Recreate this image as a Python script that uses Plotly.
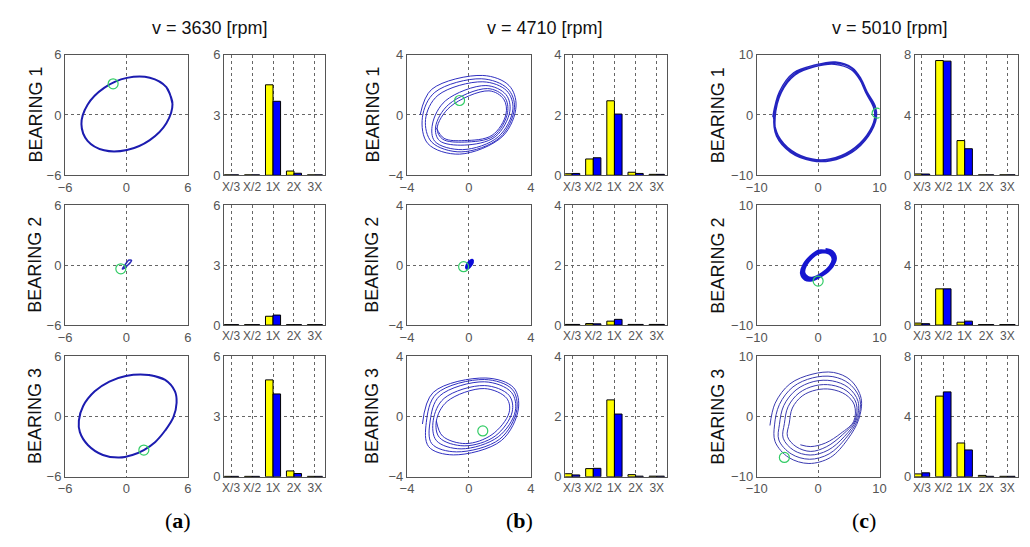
import plotly.graph_objects as go

W, H = 1030, 547

# ---------------- text ----------------
categories = ["X/3", "X/2", "1X", "2X", "3X"]
speed_titles = ["v = 3630 [rpm]", "v = 4710 [rpm]", "v = 5010 [rpm]"]
bearing_labels = ["BEARING 1", "BEARING 2", "BEARING 3"]
panel_letters = ["a", "b", "c"]
orbit_limits = [6, 4, 10]
spectrum_limits = [6, 4, 8]

# ---------------- spectrum amplitudes (yellow = first series, blue = second) ----------------
a1_yellow = [0.02, 0.02, 4.50, 0.21, 0.02]
a1_blue = [0.02, 0.02, 3.68, 0.10, 0.02]
a2_yellow = [0.02, 0.02, 0.44, 0.02, 0.02]
a2_blue = [0.02, 0.02, 0.50, 0.02, 0.02]
a3_yellow = [0.02, 0.02, 4.82, 0.29, 0.02]
a3_blue = [0.02, 0.02, 4.12, 0.16, 0.02]

b1_yellow = [0.05, 0.54, 2.47, 0.10, 0.03]
b1_blue = [0.06, 0.58, 2.03, 0.06, 0.03]
b2_yellow = [0.02, 0.05, 0.13, 0.02, 0.02]
b2_blue = [0.02, 0.04, 0.19, 0.02, 0.02]
b3_yellow = [0.10, 0.27, 2.55, 0.07, 0.02]
b3_blue = [0.06, 0.28, 2.08, 0.02, 0.02]

c1_yellow = [0.09, 7.61, 2.30, 0.03, 0.03]
c1_blue = [0.08, 7.57, 1.76, 0.03, 0.03]
c2_yellow = [0.13, 2.42, 0.19, 0.03, 0.03]
c2_blue = [0.09, 2.42, 0.26, 0.03, 0.03]
c3_yellow = [0.19, 5.35, 2.24, 0.09, 0.03]
c3_blue = [0.26, 5.63, 1.78, 0.03, 0.03]

a1_orbit = [[(4.50, 1.11), (3.90, 2.77), (2.28, 3.71), (0.05, 3.69), (-2.18, 2.70), (-3.80, 1.02),
             (-4.40, -0.91), (-3.80, -2.57), (-2.18, -3.52), (0.05, -3.49), (2.28, -2.50), (3.90, -0.82),
             (4.50, 1.11), (3.90, 2.77)]]
a2_orbit = [[(0.21, 0.50), (0.12, 0.40), (-0.10, 0.10), (-0.30, -0.20), (-0.40, -0.38),
             (-0.22, -0.32), (0.10, -0.02), (0.40, 0.30), (0.50, 0.48), (0.21, 0.50)]]
a3_orbit = [[(2.18, 4.12), (3.78, 3.64), (4.74, 2.5), (4.9, 1.36), (4.58, -0.1), (3.78, -1.4),
             (2.82, -2.53), (1.7, -3.34), (0.58, -3.83), (-0.7, -4.09), (-2.3, -3.83), (-3.75, -2.86),
             (-4.55, -1.56), (-4.65, -0.42), (-4.23, 1.04), (-3.1, 2.5), (-1.67, 3.47), (-0.06, 4.03),
             (2.18, 4.12), (3.78, 3.64)]]

b1_orbit = [
    [(-3.15, 0.0), (-2.4, 1.7), (0.9, 2.62), (2.6, 1.95), (3.05, 0.6), (2.2, -1.4), (-0.6, -2.6), (-2.65, -1.9)],
    [(-3.0, -0.15), (-2.2, 1.5), (0.8, 2.4), (2.5, 1.75), (2.95, 0.5), (2.0, -1.5), (-0.5, -2.45), (-2.4, -1.8)],
    [(-2.8, -0.3), (-2.0, 1.3), (0.9, 2.2), (2.45, 1.6), (2.85, 0.4), (1.9, -1.45), (-0.4, -2.3), (-2.2, -1.75)],
    [(-2.35, -0.6), (-1.5, 0.95), (1.1, 1.95), (2.4, 1.35), (2.65, 0.25), (1.7, -1.45), (-0.3, -2.0), (-1.9, -1.7)],
    [(-2.15, -0.8), (-1.3, 0.7), (1.2, 1.75), (2.3, 1.2), (2.5, 0.15), (1.6, -1.4), (-0.3, -1.8), (-1.7, -1.6)],
    [(-2.05, -0.9), (-1.2, 0.55), (1.3, 1.6), (2.25, 1.05), (2.4, 0.05), (1.5, -1.35), (-0.3, -1.7), (-1.6, -1.55)],
    [(-2.1, -0.85)],
]
b2_orbit = [[(0.21, 0.31), (0.12, 0.27), (-0.03, 0.11), (-0.13, -0.08), (-0.13, -0.19),
             (-0.04, -0.15), (0.11, 0.01), (0.21, 0.20), (0.21, 0.31)]]
b3_orbit = [
    [(-3.0, -0.5), (-2.3, 1.6), (1.1, 2.55), (2.9, 1.9), (3.2, 0.5), (2.1, -1.6), (-1.0, -2.55), (-2.6, -2.0)],
    [(-2.75, -0.4), (-2.1, 1.5), (1.0, 2.45), (2.8, 1.8), (3.1, 0.45), (2.0, -1.5), (-0.8, -2.35), (-2.4, -1.8)],
    [(-2.5, -0.3), (-1.9, 1.35), (1.0, 2.3), (2.75, 1.6), (3.0, 0.35), (1.9, -1.35), (-0.5, -2.15), (-2.1, -1.6)],
    [(-2.3, -0.25), (-1.6, 1.2), (1.0, 2.05), (2.6, 1.4), (2.8, 0.3), (1.7, -1.3), (-0.3, -1.95), (-1.9, -1.4)],
    [(-2.1, -0.3), (-1.4, 1.0), (1.0, 1.85), (2.45, 1.2), (2.6, 0.25), (1.5, -1.2), (-0.2, -1.8), (-1.7, -1.3)],
    [(-2.1, -0.3)],
]

c1_orbit = [
    [(-7.4, -0.3), (-6.3, 3.9), (-4.0, 7.0), (-0.5, 8.3), (2.8, 8.8), (5.6, 7.8), (7.0, 6.0), (8.0, 3.8),
     (9.3, 1.5), (9.5, -0.5), (8.2, -3.5), (5.5, -6.2), (2.0, -7.6), (-1.0, -7.6), (-4.5, -6.2), (-6.8, -3.5)],
    [(-7.2, -0.2), (-6.1, 3.8), (-3.9, 6.8), (-0.4, 8.1), (2.9, 8.6), (5.5, 7.7), (6.9, 5.9), (7.9, 3.7),
     (9.2, 1.4), (9.4, -0.4), (8.0, -3.5), (5.4, -6.0), (2.0, -7.5), (-0.9, -7.5), (-4.4, -6.0), (-6.7, -3.4)],
    [(-7.0, -0.4), (-6.0, 3.7), (-3.8, 6.6), (-0.5, 8.0), (2.7, 8.4), (5.4, 7.5), (6.8, 5.8), (7.8, 3.6),
     (9.0, 1.3), (9.2, -0.5), (7.9, -3.4), (5.3, -5.9), (1.9, -7.3), (-1.0, -7.3), (-4.3, -5.9), (-6.5, -3.4)],
    [(-7.3, -0.3)],
]
c2_orbit = [
    [(1.2, 2.65), (2.3, 2.3), (2.85, 1.2), (2.3, -0.2), (0.8, -1.6), (-1.0, -2.5), (-2.1, -2.4),
     (-2.75, -1.4), (-2.4, 0.0), (-1.2, 1.5), (0.0, 2.4)],
    [(1.1, 2.4), (2.1, 2.1), (2.6, 1.1), (2.1, -0.2), (0.7, -1.5), (-0.9, -2.3), (-1.9, -2.2),
     (-2.5, -1.3), (-2.2, 0.0), (-1.1, 1.4), (0.0, 2.2)],
    [(1.0, 2.2), (1.9, 1.9), (2.4, 1.0), (1.9, -0.2), (0.6, -1.4), (-0.8, -2.1), (-1.7, -2.0),
     (-2.3, -1.2), (-2.0, 0.0), (-1.0, 1.3), (0.0, 2.0), (1.0, 2.2)],
]
c3_orbit = [
    [(-7.85, -1.5), (-7.0, 2.2), (-4.6, 5.4), (-1.0, 7.0), (2.5, 7.3), (5.3, 6.0), (7.0, 3.0), (6.6, -0.5),
     (4.8, -3.8), (2.0, -6.8), (-1.5, -7.8), (-4.8, -6.8), (-7.0, -4.2)],
    [(-7.1, -1.4), (-6.3, 2.0), (-4.1, 4.9), (-0.9, 6.4), (2.4, 6.6), (5.1, 5.4), (6.8, 2.8), (6.4, -0.6),
     (4.5, -3.6), (1.8, -6.2), (-1.4, -7.1), (-4.4, -6.2), (-6.4, -3.9)],
    [(-6.3, -1.3), (-5.6, 1.8), (-3.6, 4.4), (-0.7, 5.8), (2.3, 5.9), (4.9, 4.8), (6.5, 2.5), (6.2, -0.6),
     (4.3, -3.3), (1.6, -5.6), (-1.3, -6.4), (-4.0, -5.6), (-5.7, -3.6)],
    [(-5.5, -1.2), (-4.9, 1.6), (-3.1, 3.9), (-0.5, 5.1), (2.2, 5.2), (4.7, 4.2), (6.2, 2.2), (6.0, -0.7),
     (4.0, -3.0), (1.4, -5.0), (-1.2, -5.8), (-3.6, -5.0), (-5.0, -3.3)],
    [(-4.7, -1.1), (-4.2, 1.4), (-2.6, 3.4), (-0.3, 4.4), (2.1, 4.5), (4.5, 3.6), (5.9, 1.9), (5.8, -0.8),
     (3.7, -2.8), (1.2, -4.4), (-1.2, -5.0), (-2.9, -4.7)],
]

# start markers (green circles)
a1_start = (-1.3, 3.1)
a2_start = (-0.55, -0.36)
a3_start = (1.7, -3.34)
b1_start = (-0.6, 0.96)
b2_start = (-0.34, -0.1)
b3_start = (0.9, -0.96)
c1_start = (9.6, 0.3)
c2_start = (0.0, -2.65)
c3_start = (-5.5, -6.8)

orbits = [[a1_orbit, a2_orbit, a3_orbit], [b1_orbit, b2_orbit, b3_orbit], [c1_orbit, c2_orbit, c3_orbit]]
starts = [[a1_start, a2_start, a3_start], [b1_start, b2_start, b3_start], [c1_start, c2_start, c3_start]]
yellows = [[a1_yellow, a2_yellow, a3_yellow], [b1_yellow, b2_yellow, b3_yellow], [c1_yellow, c2_yellow, c3_yellow]]
blues = [[a1_blue, a2_blue, a3_blue], [b1_blue, b2_blue, b3_blue], [c1_blue, c2_blue, c3_blue]]

# line styles per orbit (col, row)
orbit_style = {
    (0, 0): ("#1c1cb0", 2.0), (0, 1): ("#2a2ab8", 1.5), (0, 2): ("#1c1cb0", 2.0),
    (1, 0): ("#2f2fc0", 1.0), (1, 1): ("#0a0ad8", 3.5), (1, 2): ("#2f2fc0", 1.0),
    (2, 0): ("#2424c0", 1.3), (2, 1): ("#1515d0", 2.6), (2, 2): ("#3a3ab0", 1.0),
}

# ---------------- layout geometry (pixels) ----------------
col_px = [(55, 180, 217, 320), (403, 529, 564, 668), (759, 884, 920, 1025)]
row_px = [(49, 173), (204, 327), (359, 483)]

FONT = "Liberation Sans, Arial, sans-serif"
TICK_FONT = dict(family=FONT, size=13, color="#555555")
CAT_FONT = dict(family=FONT, size=12, color="#555555")
FRAME = "#555555"
GRID = "#666666"


def xd(p0, p1):
    return [p0 / W, p1 / W]


def yd(p0, p1):
    return [1 - p1 / H, 1 - p0 / H]


def ax(n):
    return "" if n == 1 else str(n)


fig = go.Figure()
layout = dict(
    width=W, height=H, margin=dict(l=0, r=0, t=0, b=0),
    paper_bgcolor="white", plot_bgcolor="white", showlegend=False,
    barmode="group", bargap=0.28, bargroupgap=0.0,
)

for c in range(3):
    ox0, ox1, bx0, bx1 = col_px[c]
    L = orbit_limits[c]
    S = spectrum_limits[c]
    for r in range(3):
        y0, y1 = row_px[r]
        k = r * 3 + c
        no = 2 * k + 1
        nb = 2 * k + 2

        # ---- orbit ----
        color, width = orbit_style[(c, r)]
        xs, ys = [], []
        for loop in orbits[c][r]:
            for (px, py) in loop:
                xs.append(px)
                ys.append(py)
        fig.add_trace(go.Scatter(
            x=xs, y=ys, mode="lines", line=dict(color=color, width=width, shape="spline", smoothing=1.0),
            xaxis="x" + ax(no), yaxis="y" + ax(no), hoverinfo="skip"))
        sx, sy = starts[c][r]
        fig.add_trace(go.Scatter(
            x=[sx], y=[sy], mode="markers",
            marker=dict(symbol="circle-open", size=10, color="#33cc66", line=dict(width=1.2, color="#33cc66")),
            xaxis="x" + ax(no), yaxis="y" + ax(no), hoverinfo="skip"))

        common = dict(showline=True, mirror=True, linecolor=FRAME, linewidth=1,
                      showgrid=True, gridcolor=GRID, griddash="dot", gridwidth=1,
                      zeroline=False, ticks="", tickfont=TICK_FONT, fixedrange=True)
        layout["xaxis" + ax(no)] = dict(common, domain=xd(ox0, ox1), range=[-L, L],
                                        tickvals=[-L, 0, L], anchor="y" + ax(no))
        layout["yaxis" + ax(no)] = dict(common, domain=yd(y0, y1), range=[-L, L],
                                        tickvals=[-L, 0, L], anchor="x" + ax(no))

        # ---- spectrum ----
        fig.add_trace(go.Bar(
            x=categories, y=yellows[c][r], marker=dict(color="#ffff00", line=dict(color="#000000", width=1)),
            xaxis="x" + ax(nb), yaxis="y" + ax(nb), hoverinfo="skip", offsetgroup="1"))
        fig.add_trace(go.Bar(
            x=categories, y=blues[c][r], marker=dict(color="#0000ff", line=dict(color="#000000", width=1)),
            xaxis="x" + ax(nb), yaxis="y" + ax(nb), hoverinfo="skip", offsetgroup="2"))
        layout["xaxis" + ax(nb)] = dict(common, domain=xd(bx0, bx1), type="category",
                                        range=[-0.33, 4.5], anchor="y" + ax(nb),
                                        tickangle=0, tickfont=CAT_FONT)
        layout["yaxis" + ax(nb)] = dict(common, domain=yd(y0, y1), range=[0, S],
                                        tickvals=[0, S / 2, S], anchor="x" + ax(nb))

fig.update_layout(**layout)

# ---------------- annotations ----------------
title_x = [203, 543, 895]
bearing_x = [25, 368, 720]
letter_x = [170, 518, 868]
ann = []
for c in range(3):
    ann.append(dict(text=speed_titles[c], x=title_x[c] / W, y=1 - 22 / H, xref="paper", yref="paper",
                    showarrow=False, xanchor="center", yanchor="middle",
                    font=dict(family=FONT, size=18, color="#111111")))
    ann.append(dict(text="(<b>" + panel_letters[c] + "</b>)", x=letter_x[c] / W, y=1 - 528 / H,
                    xref="paper", yref="paper", showarrow=False, xanchor="center", yanchor="middle",
                    font=dict(family="Liberation Serif, DejaVu Serif, serif", size=22, color="#000000")))
    for r in range(3):
        y0, y1 = row_px[r]
        ann.append(dict(text=bearing_labels[r], x=bearing_x[c] / W, y=1 - ((y0 + y1) / 2) / H,
                        xref="paper", yref="paper", showarrow=False, textangle=-90,
                        xanchor="center", yanchor="middle",
                        font=dict(family=FONT, size=18, color="#111111")))
fig.update_layout(annotations=ann)

fig.write_html("out.html", config={"displayModeBar": False},
               post_script="document.body.style.margin='0';document.body.style.overflow='hidden';")
